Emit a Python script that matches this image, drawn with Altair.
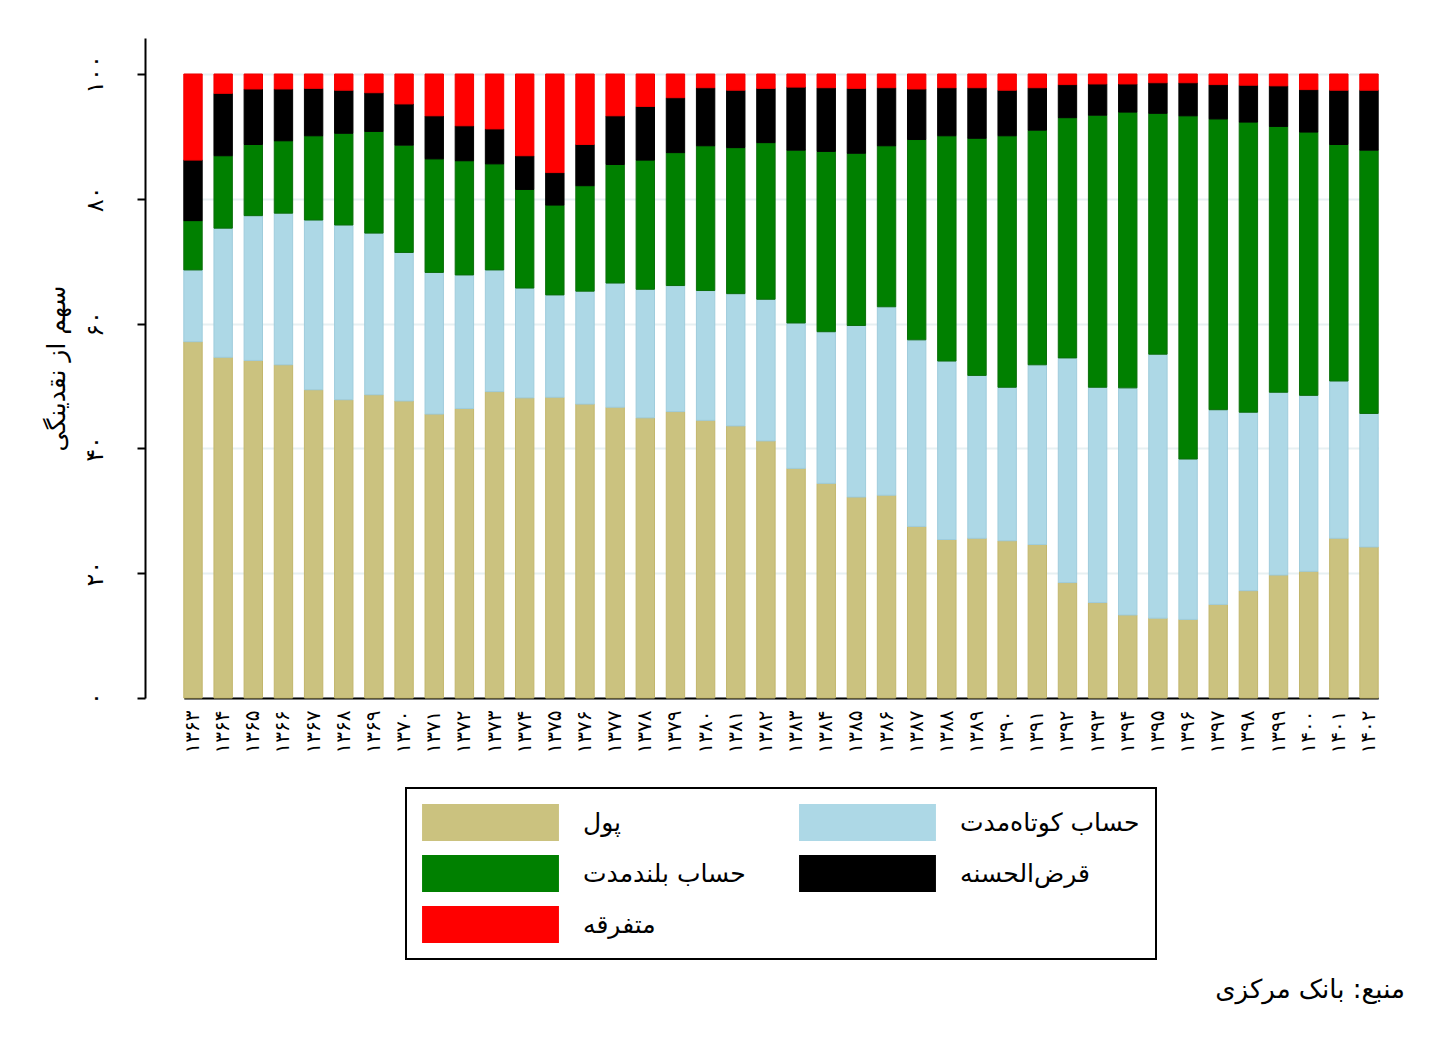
import altair as alt
import pandas as pd

years = list(range(1363, 1403))
fa = str.maketrans("0123456789", "۰۱۲۳۴۵۶۷۸۹")
year_labels = [str(y).translate(fa) for y in years]

series_names = ["پول", "حساب کوتاه\u200cمدت", "حساب بلندمدت", "قرض\u200cالحسنه", "متفرقه"]
fill_colors = ["#CBC27F", "#ADD8E6", "#008000", "#000000", "#FF0000"]
edge_colors = ["#C2B66C", "#9FCCDC", "#0A6E0A", "#000000", "#F00000"]

pul = [57.1, 54.6, 54.1, 53.4, 49.4, 47.8, 48.6, 47.6, 45.5, 46.4, 49.1, 48.1, 48.2, 47.1, 46.6, 44.9, 45.9, 44.5, 43.6, 41.2,
       36.8, 34.4, 32.2, 32.5, 27.5, 25.4, 25.6, 25.2, 24.6, 18.5, 15.3, 13.3, 12.8, 12.6, 15.0, 17.2, 19.7, 20.3, 25.6, 24.2]
kotah = [11.5, 20.7, 23.2, 24.3, 27.2, 28.0, 25.9, 23.8, 22.7, 21.4, 19.5, 17.6, 16.4, 18.1, 19.9, 20.6, 20.2, 20.8, 21.2, 22.7,
         23.3, 24.3, 27.5, 30.2, 29.9, 28.6, 26.1, 24.6, 28.8, 36.0, 34.5, 36.4, 42.3, 25.7, 31.2, 28.6, 29.3, 28.2, 25.2, 21.4]
boland = [7.9, 11.6, 11.4, 11.6, 13.5, 14.7, 16.3, 17.2, 18.2, 18.3, 17.0, 15.8, 14.4, 16.9, 19.0, 20.7, 21.3, 23.2, 23.4, 25.1,
          27.7, 28.9, 27.6, 25.8, 32.1, 36.1, 38.0, 40.3, 37.6, 38.5, 43.6, 44.2, 38.6, 55.0, 46.6, 46.5, 42.6, 42.2, 37.9, 42.2]
qarz = [9.7, 10.0, 8.9, 8.3, 7.6, 6.9, 6.2, 6.6, 6.9, 5.6, 5.6, 5.4, 5.2, 6.6, 7.8, 8.6, 8.8, 9.3, 9.2, 8.7,
        10.1, 10.2, 10.4, 9.3, 8.1, 7.7, 8.1, 7.3, 6.8, 5.3, 5.0, 4.5, 4.9, 5.3, 5.5, 5.9, 6.5, 6.8, 8.7, 9.6]
motafareqe = [13.8, 3.1, 2.4, 2.4, 2.3, 2.6, 3.0, 4.8, 6.7, 8.3, 8.8, 13.1, 15.8, 11.3, 6.7, 5.2, 3.8, 2.2, 2.6, 2.3,
              2.1, 2.2, 2.3, 2.2, 2.4, 2.2, 2.2, 2.6, 2.2, 1.7, 1.6, 1.6, 1.4, 1.4, 1.7, 1.8, 1.9, 2.5, 2.6, 2.6]

y_ticks = [0, 20, 40, 60, 80, 100]
y_title = "سهم از نقدینگی"
source_text = "منبع: بانک مرکزی"

FONT = "DejaVu Sans"

rows = []
for i, lab in enumerate(year_labels):
    for k, (name, vals) in enumerate(zip(series_names, [pul, kotah, boland, qarz, motafareqe])):
        rows.append({"year": lab, "series": name, "value": vals[i], "ord": k})
df = pd.DataFrame(rows)

label_expr = " : ".join(
    [f"datum.value == {t} ? '{str(t).translate(fa)}'" for t in y_ticks]
) + " : ''"

W, H = 1273, 660
ymax = H / 6.24

# legend swatch: 137 x 37 px drawn with a symbol whose nominal size is 37 px
SW_H = 37
sym_path = "M-3.7,-1H3.7V1H-3.7Z"

bars = alt.Chart(df).mark_bar(strokeWidth=1).encode(
    x=alt.X("year:O", sort=year_labels,
            scale=alt.Scale(paddingInner=0.39, paddingOuter=0, range=[38.8, 1233.2]),
            axis=alt.Axis(title=None, labelAngle=270, ticks=False, labelFontSize=20,
                          labelPadding=12, domainColor="black", domainWidth=2,
                          labelColor="black", labelFont=FONT, grid=False)),
    y=alt.Y("value:Q", stack="zero",
            scale=alt.Scale(domain=[0, ymax], nice=False, zero=True),
            axis=alt.Axis(values=y_ticks, title=y_title, titleFontSize=25, titleFont=FONT,
                          titleFontWeight="normal", titleColor="black", titlePadding=14,
                          labelExpr=label_expr, labelAngle=270, labelFontSize=24,
                          labelFont=FONT, labelColor="black", labelPadding=30,
                          tickSize=8, tickWidth=2, tickColor="black",
                          domainColor="black", domainWidth=2,
                          grid=True, gridColor="#E7F0F2", gridWidth=2)),
    color=alt.Color("series:N",
                    scale=alt.Scale(domain=series_names, range=fill_colors),
                    legend=alt.Legend(title=None, orient="none", legendX=261, legendY=750,
                                      columns=2, direction="horizontal",
                                      symbolType=sym_path, symbolSize=SW_H * SW_H,
                                      symbolOffset=50,
                                      symbolStrokeWidth=0, labelFontSize=25, labelFont=FONT,
                                      labelColor="black", labelLimit=500, labelOffset=74,
                                      columnPadding=53, rowPadding=14, padding=16,
                                      strokeColor="black", fillColor="white")),
    stroke=alt.Stroke("series:N", scale=alt.Scale(domain=series_names, range=edge_colors),
                      legend=None),
    order=alt.Order("ord:Q", sort="ascending"),
)

src = alt.Chart(pd.DataFrame({"t": [source_text]})).mark_text(
    align="right", baseline="middle", fontSize=26, font=FONT, color="black"
).encode(text="t:N", x=alt.value(1260), y=alt.value(952))

chart = alt.layer(bars, src).properties(
    width=W, height=H,
    background="white",
    autosize=alt.AutoSizeParams(type="none"),
    padding={"left": 137, "top": 30, "right": 30, "bottom": 353},
).configure_view(stroke=None).configure_legend(strokeWidth=2)

chart.save("out.html", embed_options={"renderer": "svg", "actions": False})
